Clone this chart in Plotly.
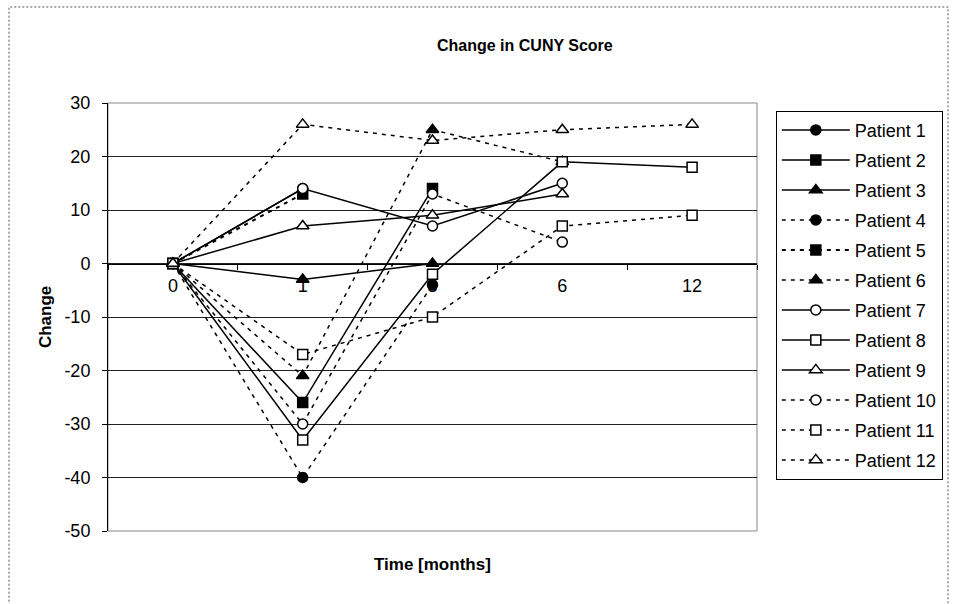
import plotly.graph_objects as go

# Visit months (plotted as equally spaced categories)
months = ["0", "1", "3", "6", "12"]

# Y axis ticks, written with a plain hyphen for negatives
y_ticks = [-50, -40, -30, -20, -10, 0, 10, 20, 30]
y_tick_labels = ["-50", "-40", "-30", "-20", "-10", "0", "10", "20", "30"]

# Change in CUNY score per patient at each visit (None = no visit)
patient_1 = [0, 14, None, None, None]
patient_2 = [0, -26, 14, None, None]
patient_3 = [0, -3, 0, None, None]
patient_4 = [0, -40, -4, None, None]
patient_5 = [0, 13, None, None, None]
patient_6 = [0, -21, 25, 19, None]
patient_7 = [0, 14, 7, 15, None]
patient_8 = [0, -33, -2, 19, 18]
patient_9 = [0, 7, 9, 13, None]
patient_10 = [0, -30, 13, 4, None]
patient_11 = [0, -17, -10, 7, 9]
patient_12 = [0, 26, 23, 25, 26]

series = [
    ("Patient 1", patient_1, "circle", True, "solid"),
    ("Patient 2", patient_2, "square", True, "solid"),
    ("Patient 3", patient_3, "triangle-up", True, "solid"),
    ("Patient 4", patient_4, "circle", True, "dash"),
    ("Patient 5", patient_5, "square", True, "dash"),
    ("Patient 6", patient_6, "triangle-up", True, "dash"),
    ("Patient 7", patient_7, "circle", False, "solid"),
    ("Patient 8", patient_8, "square", False, "solid"),
    ("Patient 9", patient_9, "triangle-up", False, "solid"),
    ("Patient 10", patient_10, "circle", False, "dash"),
    ("Patient 11", patient_11, "square", False, "dash"),
    ("Patient 12", patient_12, "triangle-up", False, "dash"),
]

sizes = {"circle": 10, "square": 10, "triangle-up": 11}

fig = go.Figure()
for i, (name, vals, sym, filled, style) in enumerate(series):
    dash = "solid" if style == "solid" else "4px,5px"
    width = 2 if name == "Patient 5" else 1.5
    fig.add_trace(go.Scatter(
        x=months, y=vals, name=name, mode="lines+markers",
        legendgroup=f"g{i}",
        line=dict(color="black", width=width, dash=dash),
        marker=dict(symbol=sym, size=sizes[sym],
                    color="black" if filled else "white",
                    line=dict(color="black", width=1.5)),
    ))

FONT = "Arial, Liberation Sans, sans-serif"

fig.update_layout(
    width=957, height=604,
    margin=dict(l=108, r=200, t=103, b=73),
    paper_bgcolor="white", plot_bgcolor="white",
    font=dict(family=FONT, color="black", size=18),
    showlegend=True,
    legend=dict(
        x=1.029, y=0.982, xanchor="left", yanchor="top",
        bordercolor="black", borderwidth=1, bgcolor="white",
        font=dict(family=FONT, size=18, color="black"),
        tracegroupgap=3.6, itemwidth=68,
    ),
    xaxis=dict(
        type="category", categoryorder="array", categoryarray=months,
        range=[-0.5, 4.5], anchor="free", position=0.625,
        showline=True, linecolor="black", linewidth=1,
        ticks="outside", tickson="boundaries", ticklen=5,
        tickcolor="black", showgrid=False, zeroline=False,
        tickfont=dict(size=18), layer="below traces",
        ticklabelstandoff=6,
    ),
    yaxis=dict(
        range=[-50, 30], tickvals=y_ticks, ticktext=y_tick_labels,
        showline=True, linecolor="black", linewidth=1,
        ticks="outside", ticklen=5, tickcolor="black",
        showgrid=True, gridcolor="#222", gridwidth=1,
        zeroline=False, tickfont=dict(size=18),
        ticklabelstandoff=8,
    ),
    shapes=[
        # plot area frame
        dict(type="rect", xref="paper", yref="paper", x0=0, x1=1, y0=0, y1=1,
             line=dict(color="#888", width=1), layer="below"),
        # chart area frame
        dict(type="rect", xref="paper", yref="paper",
             x0=-0.1525, x1=1.2943, y0=-0.19, y1=1.2243,
             line=dict(color="#555", width=1, dash="2px,2px")),
    ],
    annotations=[
        dict(text="<b>Change in CUNY Score</b>", xref="paper", yref="paper",
             x=0.6425, y=1.1355, showarrow=False, font=dict(size=16),
             xanchor="center", yanchor="middle"),
        dict(text="<b>Time [months]</b>", xref="paper", yref="paper",
             x=0.5, y=-0.0794, showarrow=False, font=dict(size=17),
             xanchor="center", yanchor="middle"),
        dict(text="<b>Change</b>", xref="paper", yref="paper",
             x=-0.097, y=0.5, showarrow=False, font=dict(size=17),
             textangle=-90, xanchor="center", yanchor="middle"),
    ],
)

fig.write_html("out.html")
